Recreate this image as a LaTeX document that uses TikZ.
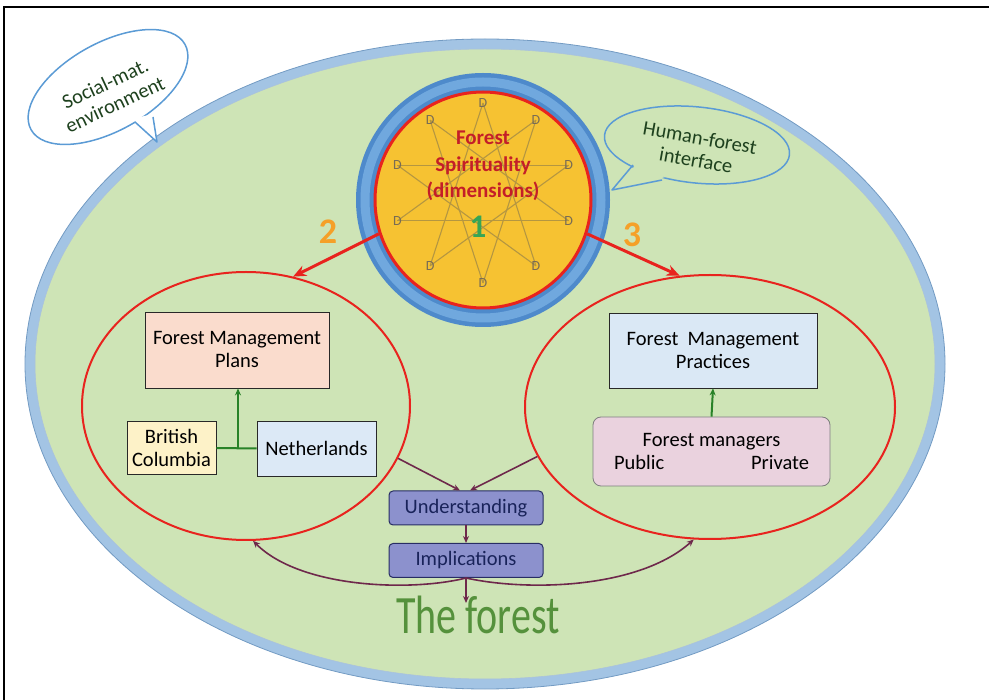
\documentclass[tikz,border=0pt]{standalone}
\usepackage{fontspec}
\setmainfont{Carlito}
\usetikzlibrary{arrows.meta,positioning,shapes.geometric}

\definecolor{bggreen}{RGB}{206,228,182}
\definecolor{ringblue}{RGB}{163,196,228}
\definecolor{ringedge}{RGB}{115,155,195}
\definecolor{coreblue}{RGB}{78,138,203}
\definecolor{corelight}{RGB}{112,168,222}
\definecolor{coreyellow}{RGB}{246,194,50}
\definecolor{redline}{RGB}{232,35,30}
\definecolor{starline}{RGB}{180,150,65}
\definecolor{dgray}{RGB}{120,108,85}
\definecolor{spiritred}{RGB}{196,30,40}
\definecolor{numgreen}{RGB}{55,165,85}
\definecolor{numorange}{RGB}{245,160,40}
\definecolor{bubbleblue}{RGB}{91,155,213}
\definecolor{bubbletext}{RGB}{30,65,30}
\definecolor{plansfill}{RGB}{250,220,205}
\definecolor{bcfill}{RGB}{253,242,200}
\definecolor{nlfill}{RGB}{220,233,246}
\definecolor{pracfill}{RGB}{218,232,245}
\definecolor{mgrfill}{RGB}{234,210,222}
\definecolor{boxline}{RGB}{40,40,40}
\definecolor{linkgreen}{RGB}{40,130,40}
\definecolor{stepfill}{RGB}{140,145,205}
\definecolor{navyline}{RGB}{40,45,100}
\definecolor{navytext}{RGB}{25,35,90}
\definecolor{maroon}{RGB}{110,40,75}
\definecolor{forestgreen}{RGB}{85,145,60}

\tikzset{
  box/.style={draw=boxline, line width=0.8, inner sep=0, align=center},
  stepbox/.style={draw=navyline, fill=stepfill, rounded corners=4, line width=1,
    text=navytext, minimum width=154, minimum height=34, inner sep=0},
  ring/.style={ellipse, draw=redline, line width=2, inner sep=0},
  redarrow/.style={draw=redline, line width=3, -{Stealth[length=13pt,width=11pt]}},
  linkarrow/.style={draw=maroon, line width=1.6, -{Stealth[length=7pt,width=6pt]}},
  greenarrow/.style={draw=linkgreen, line width=2, -{Stealth[length=7pt,width=6pt]}},
  bubble/.style={draw=bubbleblue, line width=1.5},
}

\begin{document}
\begin{tikzpicture}[x=1pt, y=-1pt, font=\fontsize{20.5}{23}\selectfont]
\useasboundingbox (0,0) rectangle (989,700);
% Frame
\draw[line width=1.5] (989,7) -- (4,7) -- (4,700);
% Outer ellipse
\fill[bggreen] (485,364) ellipse [x radius=458, y radius=323];
\draw[ringblue, line width=10] (485,364) ellipse [x radius=455, y radius=320];
\draw[ringedge, line width=0.8] (485,364) ellipse [x radius=460, y radius=325];
\draw[ringedge!60, line width=0.6] (485,364) ellipse [x radius=450, y radius=315];

% Speech bubbles
\filldraw[fill=white, bubble, rotate around={29:(108,87)}] (108,87) ellipse [x radius=88, y radius=44];
\fill[white] (132.5,118.8) -- (157,142) -- (149.7,114.8) -- cycle;
\draw[bubble, line join=round] (135,122) -- (157,142) -- (153,117);
\node[rotate=25, align=center, text=bubbletext] (social) at (110,94) {Social-mat.\\environment};

\filldraw[fill=bggreen, bubble, rotate around={-6:(697,145)}] (697,145) ellipse [x radius=93, y radius=38];
\fill[bggreen] (636.8,163.8) -- (612,190) -- (664.8,177.2) -- cycle;
\draw[bubble, line join=round] (633,165) -- (612,190) -- (662,180);
\node[rotate=-10, align=center, text=bubbletext] (human) at (698,149) {Human-forest\\interface};

% Red rings
\node[ring, minimum width=328, minimum height=268] (planring) at (246,406) {};
\node[ring, minimum width=370, minimum height=264] (pracring) at (710,407) {};

% Core
\fill[coreblue] (483,200) circle [radius=127];
\draw[corelight, line width=9] (483,200) circle [radius=118];
\node[circle, fill=coreyellow, draw=redline, line width=3, minimum size=216, inner sep=0] (core) at (483,200) {};
% Star of dimensions
\foreach \i in {0,...,9}{
  \pgfmathsetmacro\a{90-36*\i}
  \pgfmathsetmacro\b{90-36*(\i+4)}
  \draw[starline, line width=1.1] ({483+90*cos(\a)},{193-90*sin(\a)}) -- ({483+90*cos(\b)},{193-90*sin(\b)});
}
\foreach \i in {0,...,9}
  \node[font=\fontsize{14}{14}\selectfont, text=dgray, inner sep=0] (d\i) at ({483+90*cos(90-36*\i)},{193-90*sin(90-36*\i)}) {D};
\node[font=\bfseries\fontsize{21}{26.5}\selectfont, text=spiritred, align=center] (spirit) at (483,166) {Forest\\Spirituality\\(dimensions)};
\node[font=\bfseries\fontsize{33}{33}\selectfont, text=numgreen] (one) at (478,227) {1};

% Arrows 2 and 3
\draw[redarrow] (core.198) -- (planring.70);
\draw[redarrow] (core.-18) -- (pracring.103);
\node[font=\bfseries\fontsize{36}{36}\selectfont, text=numorange] (two) at (328,232) {2};
\node[font=\bfseries\fontsize{36}{36}\selectfont, text=numorange] (three) at (632,235) {3};

% Plans side
\node[box, fill=plansfill, minimum width=184, minimum height=76] (plans) at (237,350) {Forest Management\\Plans};
\node[box, fill=bcfill, minimum width=89, minimum height=53] (bc) at (171.5,448) {British\\Columbia};
\node[box, fill=nlfill, minimum width=119, minimum height=55] (nl) at (316.5,448.5) {Netherlands};
\coordinate (join) at (238,448);
\draw[linkgreen, line width=2] (bc.east) -- (nl.west);
\draw[greenarrow] (join) -- (join |- plans.south);

% Practices side
\node[box, fill=pracfill, minimum width=208, minimum height=75] (prac) at (713,350.5) {Forest~ Management\\Practices};
\node[box, draw=boxline!60, fill=mgrfill, rounded corners=8, minimum width=237, minimum height=69] (mgr) at (711.5,451.5)
  {Forest managers\\\makebox[195pt]{Public\hfill Private}};
\draw[greenarrow] (mgr.north) -- (prac.south);

% Understanding and implications
\node[stepbox] (und) at (466,508) {Understanding};
\node[stepbox] (impl) at (466,560.5) {Implications};
\draw[linkarrow] (planring.-19) -- ([xshift=-6pt]und.north);
\draw[linkarrow] (pracring.196) -- ([xshift=4pt]und.north);
\draw[linkarrow] (und.south) -- (impl.north);
\draw[linkarrow] (impl.south) .. controls (410,592) and (300,588) .. (planring.-87);
\draw[linkarrow] (impl.south) .. controls (530,592) and (640,588) .. (pracring.263);

% The forest
\coordinate (fin) at (466,603);
\draw[linkarrow] (impl.south) -- (fin);
\node[font=\fontsize{54}{54}\selectfont, text=forestgreen, xscale=0.74] (forest) at (478,615) {The forest};
\end{tikzpicture}
\end{document}
